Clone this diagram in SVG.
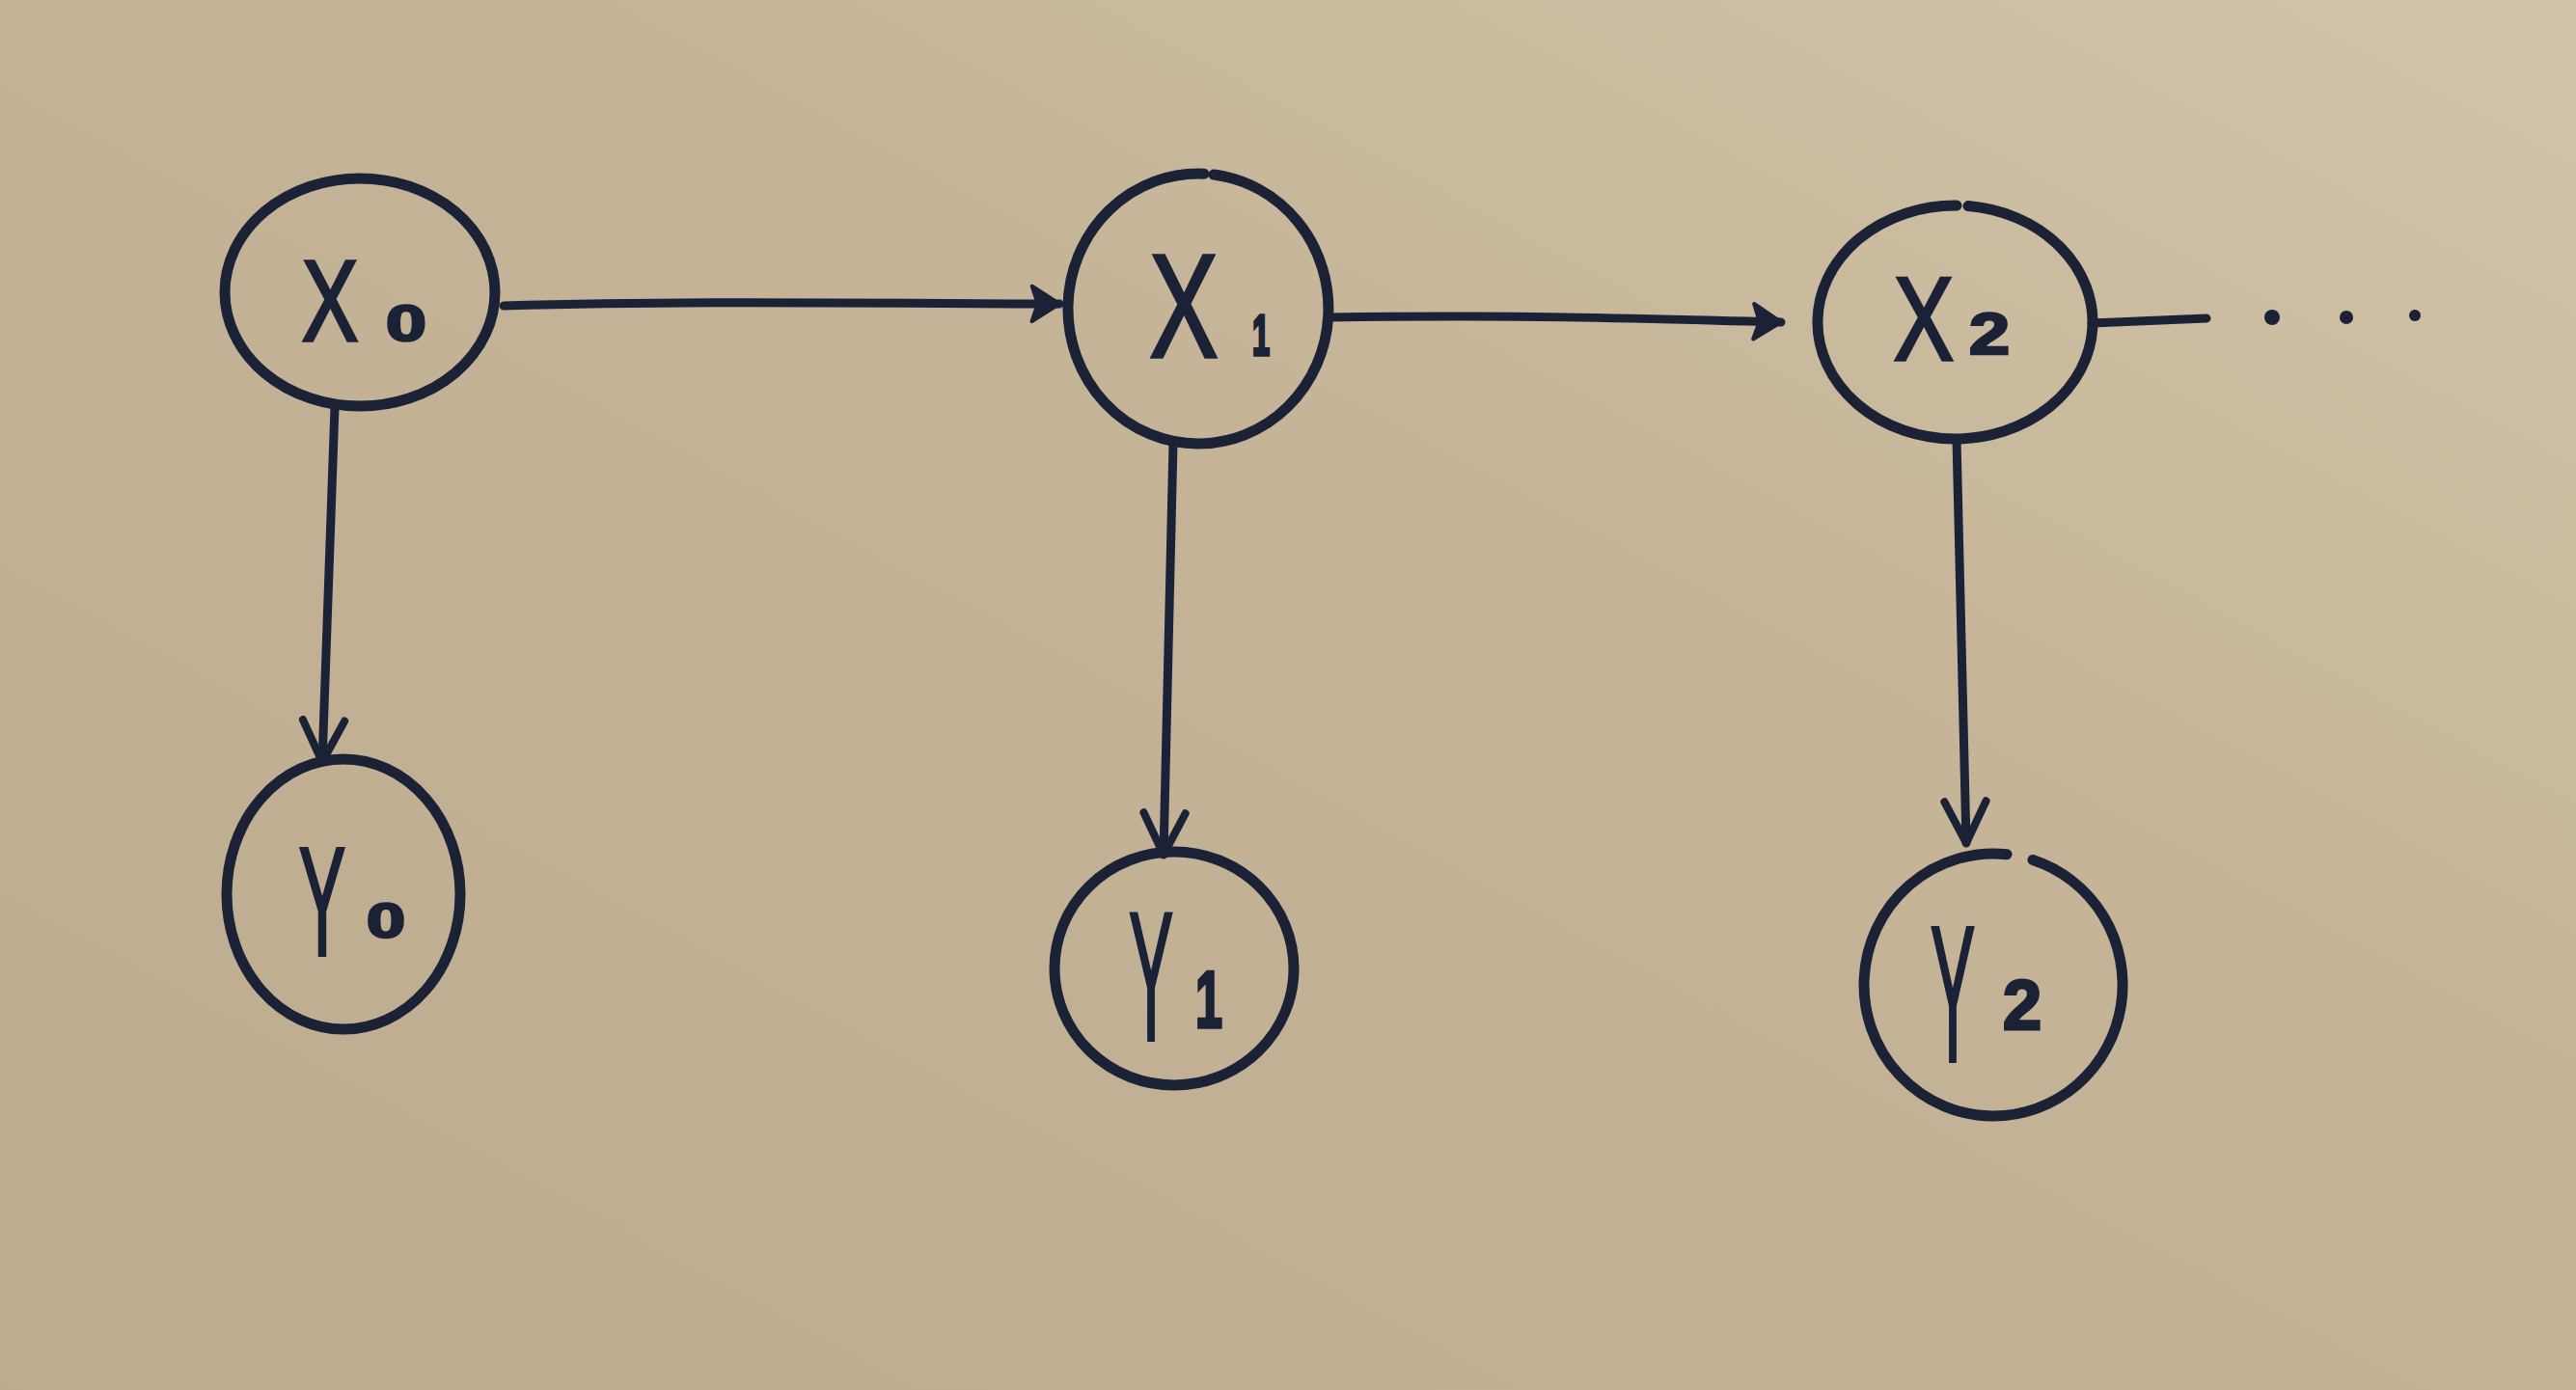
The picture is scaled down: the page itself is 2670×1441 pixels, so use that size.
<svg xmlns="http://www.w3.org/2000/svg" width="2670" height="1441" viewBox="0 0 2670 1441">
<defs>
<linearGradient id="paper" x1="0" y1="1" x2="1" y2="0">
<stop offset="0" stop-color="#bcab8f"/>
<stop offset="0.6" stop-color="#c5b498"/>
<stop offset="1" stop-color="#d2c3a8"/>
</linearGradient>
<marker id="vee" viewBox="0 0 20 20" refX="18" refY="10" markerWidth="6" markerHeight="6" orient="auto" markerUnits="strokeWidth">
<path d="M2,2 L18,10 L2,18" fill="none" stroke="#1b2236" stroke-width="3" stroke-linecap="round" stroke-linejoin="round"/>
</marker>
<marker id="barb" viewBox="0 0 20 20" refX="18" refY="10" markerWidth="4.5" markerHeight="5" orient="auto" markerUnits="strokeWidth">
<path d="M4,1 L18,10 L4,19 L7,10 Z" fill="#1b2236" stroke="#1b2236" stroke-width="2" stroke-linejoin="round"/>
</marker>
<style>
.node{fill:none;stroke:#1b2236;stroke-width:11;stroke-linecap:round}
.edge{fill:none;stroke:#1b2236;stroke-width:9;stroke-linecap:round}
.lbl{font-family:"Liberation Sans",Arial,sans-serif;fill:#1b2236;stroke:#1b2236;stroke-width:3;text-anchor:middle;vector-effect:non-scaling-stroke}
.sub{font-family:"Liberation Sans",Arial,sans-serif;fill:#1b2236;stroke:#1b2236;stroke-width:3;font-weight:bold;text-anchor:middle;vector-effect:non-scaling-stroke}
.dot{fill:#1b2236}
</style>
</defs>
<rect x="0" y="0" width="2670" height="1441" fill="url(#paper)"/>
<g id="connectors">
<path class="edge" d="M522,317 C700,312 850,314 1098,315" marker-end="url(#barb)"/>
<path class="edge" d="M1379,329 C1550,326 1700,330 1846,334" marker-end="url(#barb)"/>
<path class="edge" d="M2168,335 L2287,330"/>
<circle class="dot" cx="2355" cy="329" r="8"/>
<circle class="dot" cx="2432" cy="329" r="7"/>
<circle class="dot" cx="2503" cy="327" r="6"/>
<path class="edge" d="M347,422 L334,790" marker-end="url(#vee)"/>
<path class="edge" d="M1216,460 L1206,886" marker-end="url(#vee)"/>
<path class="edge" d="M2028,456 L2038,874" marker-end="url(#vee)"/>
</g>
<g id="X0">
<ellipse class="node" cx="373" cy="303" rx="140" ry="118"/>
<text class="lbl" transform="translate(342,353) scale(0.74,1)" font-size="118">X</text>
<text class="sub" transform="translate(421,353) scale(1.45,1)" font-size="52">0</text>
</g>
<g id="X1">
<path class="node" d="M1258,181 A135 140 0 0 1 1242,460 A135 140 0 1 1 1248,180.14"/>
<text class="lbl" transform="translate(1227,370) scale(0.7,1)" font-size="152">X</text>
<text class="sub" transform="translate(1307,368) scale(0.54,1)" font-size="60">1</text>
</g>
<g id="X2">
<path class="node" d="M2040,213.58 A143 121 0 0 1 2026,455 A143 121 0 1 1 2028,213"/>
<text class="lbl" transform="translate(1994,373) scale(0.76,1)" font-size="122">X</text>
<text class="sub" transform="translate(2062,367) scale(1.22,1)" font-size="62">2</text>
</g>
<g id="Y0">
<ellipse class="node" cx="356" cy="927" rx="121" ry="140"/>
<text class="lbl" transform="translate(334,990) scale(0.45,1)" font-size="160">Y</text>
<text class="sub" transform="translate(400,972) scale(1.44,1)" font-size="50">0</text>
</g>
<g id="Y1">
<ellipse class="node" cx="1217" cy="1004" rx="124" ry="121"/>
<text class="lbl" transform="translate(1193,1078) scale(0.36,1)" font-size="190">Y</text>
<text class="sub" transform="translate(1253,1065) scale(0.6,1)" font-size="84">1</text>
</g>
<g id="Y2">
<path class="node" d="M2107,891.5 A134 136 0 0 1 2066,1157 A134 136 0 1 1 2080,885.74"/>
<text class="lbl" transform="translate(2024,1100) scale(0.345,1)" font-size="200">Y</text>
<text class="sub" transform="translate(2096,1067)" font-size="72">2</text>
</g>
</svg>
